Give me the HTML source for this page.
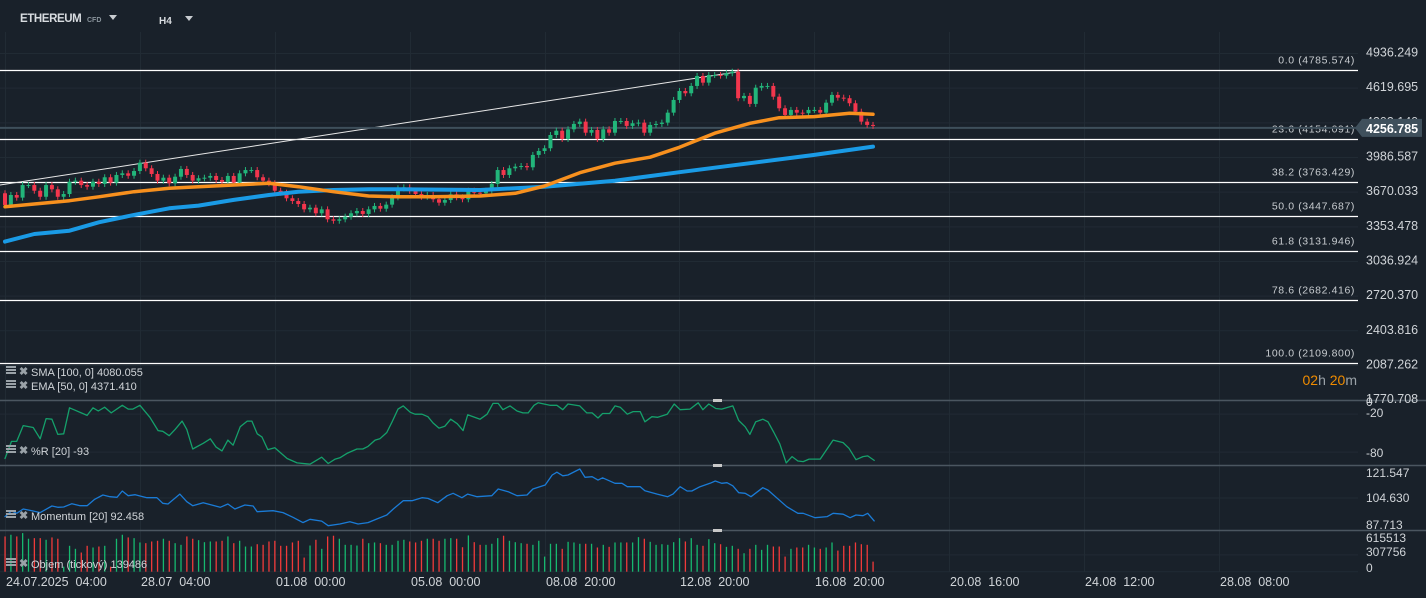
<!DOCTYPE html>
<html><head><meta charset="utf-8"><style>
html,body{margin:0;padding:0;background:#19212a;width:1426px;height:598px;overflow:hidden}
svg{display:block;font-family:"Liberation Sans",sans-serif}
</style></head><body>
<svg id="c" width="1426" height="598" viewBox="0 0 1426 598">
<rect x="0" y="0" width="1426" height="598" fill="#19212a"/>
<g id="hdr">
<text x="20" y="22" fill="#d8dce0" font-size="11.5" font-weight="bold" letter-spacing="-0.4">ETHEREUM</text>
<text x="87" y="22" fill="#8a949c" font-size="7" font-weight="bold">CFD</text>
<path d="M109,15 L117,15 L113,20 Z" fill="#c8ccd0"/>
<text x="159" y="24" fill="#d8dce0" font-size="10" font-weight="bold">H4</text>
<path d="M185,16 L193,16 L189,21 Z" fill="#c8ccd0"/>
</g>
<g id="grid"></g>
<g id="fib"></g>
<g id="main"></g>
<g id="lower"></g>
<g id="axes"></g>
</svg>
<script>
// ---------- DATA ----------
const closes=[3553,3644,3620,3735,3735,3683,3628,3735,3696,3628,
3653,3765,3775,3735,3720,3765,3745,3806,3757,3827,
3842,3820,3863,3939,3888,3836,3775,3802,3751,3811,
3882,3827,3775,3797,3802,3818,3781,3765,3818,3757,
3842,3872,3872,3806,3775,3751,3683,3665,3614,3589,
3562,3513,3528,3477,3513,3422,3409,3422,3446,3477,
3498,3471,3513,3544,3519,3556,3623,3705,3714,3683,
3653,3628,3644,3605,3574,3598,3650,3623,3605,3683,
3665,3660,3683,3745,3872,3827,3888,3903,3909,3897,
4010,4046,4071,4192,4231,4156,4244,4293,4314,4213,
4238,4156,4244,4213,4320,4320,4275,4299,4305,4213,
4284,4293,4305,4396,4512,4594,4573,4640,4731,4670,
4740,4740,4734,4756,4770,4528,4549,4476,4624,4640,
4640,4542,4436,4375,4421,4396,4391,4421,4421,4396,
4487,4558,4533,4528,4482,4405,4314,4284,4275];
const firstOpen=3660;
const volumesK=[644,675,644,705,602,613,613,583,626,602,92,473,418,350,473,442,460,473,92,602,675,626,613,534,521,552,565,602,565,521,491,644,602,576,539,552,552,565,644,521,565,460,460,502,491,552,565,473,473,534,565,258,478,583,418,644,657,602,491,491,478,602,521,534,521,491,491,565,583,552,534,565,602,602,565,602,613,602,447,662,539,
491,491,510,613,657,565,539,521,510,491,565,276,510,510,418,546,534,510,510,510,442,491,454,534,534,534,534,631,602,546,491,502,491,539,613,552,613,491,473,594,521,502,454,473,418,337,418,491,399,491,460,460,276,418,442,442,491,442,418,442,534,386,473,473,534,502,491,184];
const emaIdx=[0,5,11,16,22,28,33,39,45,50,56,62,67,73,81,87,92,98,104,110,115,121,127,132,138,144,148];
const emaVal=[3537,3562,3592,3628,3674,3705,3720,3735,3751,3720,3674,3635,3628,3628,3635,3660,3726,3848,3934,3989,4080,4208,4299,4350,4360,4391,4381];
const smaIdx=[0,5,11,16,22,28,33,39,45,50,56,62,67,81,92,104,115,127,138,148];
const smaVal=[3218,3288,3318,3395,3462,3523,3547,3599,3644,3674,3690,3696,3696,3690,3720,3775,3852,3934,4010,4086];
const wrIdx=[0,1.1,2,3.1,4.8,6,7,8,9,10,11,14,15,15.9,17,18.1,20,21,21.8,23,24.7,26.1,26.9,28,29,30.2,31,32,33.8,35,36,37,38,38.9,40.1,41.3,42.1,43,43.8,44.8,46,48.1,49.8,52,54,55.1,56.3,57.1,58.3,60,61,61.9,63.1,63.9,65.1,66,67,67.9,69.1,69.9,71.1,72.1,73,74,75,76,77.1,78.1,78.9,
81,82.2,83.2,84.1,84.9,86.1,87.3,88.3,89.2,90.2,90.9,92.9,94.1,95.1,96,98,99.2,100.1,101.1,101.9,103.1,104,104.9,106.1,107.1,108.3,109.1,110.3,111.3,112.9,114.1,115.1,116.8,118.2,119,120,121.2,122.2,124.1,125.1,126.2,127,128,129.2,130.1,131.1,132.1,133.2,134.2,135.2,136.1,137.1,139,141.2,142.9,143.9,145.1,146.3,147.1,148.2];
const wrVal=[-90,-63,-63,-38,-41,-59,-27,-28,-52,-51,-10,-22,-10,-15,-9,-18,-6,-12,-12,-6,-25,-46,-47,-54,-44,-31,-44,-75,-66,-59,-72,-78,-61,-69,-40,-31,-31,-51,-56,-76,-73,-90,-97,-99,-88,-98,-91,-89,-82,-75,-75,-71,-61,-59,-49,-32,-12,-7,-17,-20,-20,-24,-34,-42,-39,-28,-35,-46,-21,
-28,-20,-3,-3,-13,-7,-15,-18,-18,-6,-2,-6,-6,-13,-4,-7,-18,-18,-26,-19,-19,-7,-9,-20,-16,-16,-32,-24,-25,-20,-4,-13,-12,-2,-13,-4,-11,-12,-7,-30,-40,-52,-32,-28,-32,-49,-67,-97,-87,-94,-95,-91,-91,-61,-65,-74,-92,-87,-86,-93];
const momIdx=[0,1.1,2,3.1,4.8,6,8,9,10,11.4,12.8,14,15.3,16.7,17.9,19.1,20,21,22.2,24.2,25.9,26.9,27.8,29.8,31,32,33.8,36.7,38,39.2,40.9,42.3,43,45.7,47.4,49.1,50.8,52,54,55.1,57.1,58.8,60.2,61.9,63.4,65.1,66.2,67.9,69.4,71.1,72.1,73.8,75.4,76.4,77.9,78.9,
80.5,83,84.1,85.8,87.3,89,90,92.1,93.3,94.1,95.1,96,98,98.9,100.1,101.1,101.9,104,105.2,106.1,108.3,109.1,111.2,113,113.9,115.1,116.3,117.1,118.5,120.2,121.1,122.2,123.1,124.1,125.1,126.2,127.2,129.2,130.1,133.3,135.2,136.1,138.1,140.2,141.2,142.9,144.1,145.1,146.3,147.1,148.2];
const momVal=[92.5,96.2,94.7,97.5,96.2,95.1,99.4,98.6,98.8,100.9,99.6,99.6,103.8,106.6,105.5,105.1,109.2,106.1,106.8,104.8,104.8,101.2,100.7,107.2,102.2,99.6,101.6,98.6,100.7,97.5,100.1,99.4,95.7,96.4,95.1,92.1,88.6,90.8,89.6,86.6,87.7,89.2,87.7,88.6,91.0,93.6,97.5,102.9,102.9,104.8,104.4,101.6,106.1,107.7,104.8,107.2,
105.5,106.1,110.5,108.7,106.1,106.6,110.5,113.1,119.6,121.4,119.1,119.6,123.5,118.1,118.5,116.3,117.8,114.2,114.2,112.0,112.0,109.4,107.2,105.5,107.2,112.0,109.2,109.2,112.0,114.2,115.7,114.2,114.6,112.6,108.1,107.7,105.5,111.3,109.8,99.0,94.7,94.7,91.8,92.5,94.7,94.1,91.8,93.6,93.1,94.7,89.7];
const fibLevels=["0.0","23.6","38.2","50.0","61.8","78.6","100.0"];
const fibPrices=[4785.574,4154.091,3763.429,3447.687,3131.946,2682.416,2109.800];
const priceTicks=[4936.249,4619.695,4303.140,3986.587,3670.033,3353.478,3036.924,2720.370,2403.816,2087.262,1770.708];
const timeLabels=["24.07.2025  04:00","28.07  04:00","01.08  00:00","05.08  00:00","08.08  20:00","12.08  20:00","16.08  20:00","20.08  16:00","24.08  12:00","28.08  08:00"];
const timeIdx=[0,23,46,69,92,115,138,161,184,207];
const trendStart=[-1,3734]; const trendEnd=[125,4770];
const lastPrice=4256.785;
// ---------- AXES ----------
const X0=5, DX=5.865;
const xOf=i=>X0+i*DX;
const yP=p=>70+(4785.574-p)*0.1095;
const yR=r=>401.5-r*0.633;
const yM=m=>472+(121.547-m)*1.537;
const yV=v=>571.7-v/615.513*33.7;
const NS='http://www.w3.org/2000/svg';
function mk(parent,tag,attrs,text){const e=document.createElementNS(NS,tag);for(const k in attrs)e.setAttribute(k,attrs[k]);if(text!==undefined)e.textContent=text;parent.appendChild(e);return e;}
const G=id=>document.getElementById(id);
// grid
const grid=G('grid');
priceTicks.forEach(p=>{const l=mk(grid,'line',{x1:0,x2:1358,y1:yP(p),y2:yP(p),stroke:'#212b34','stroke-width':1});

});
[-20,-80].forEach(r=>{const l=mk(grid,'line',{x1:0,x2:1358,y1:yR(r),y2:yR(r),stroke:'#212b34'});

});
[104.63].forEach(m=>{const l=mk(grid,'line',{x1:0,x2:1358,y1:yM(m),y2:yM(m),stroke:'#212b34'});

});
[307.756,0].forEach(v=>{const l=mk(grid,'line',{x1:0,x2:1358,y1:yV(v),y2:yV(v),stroke:'#212b34'});

});
timeIdx.forEach(i=>{const x=Math.round(xOf(i))+0.5;const l=mk(grid,'line',{x1:x,x2:x,y1:32,y2:572,stroke:'#212b34'});

});
// fib
const fib=G('fib');
fibPrices.forEach((p,k)=>{const y=Math.round(yP(p))+0.5;
const l=mk(fib,'line',{x1:0,x2:1358,y1:y,y2:y,stroke:'#ffffff','stroke-width':1.3});


const t=mk(fib,'text',{x:1355,y:y-7,fill:'#c8ccd0','font-size':10.5,'text-anchor':'end','letter-spacing':'0.6'},fibLevels[k]+' ('+p.toFixed(3)+')');

});
const tl=mk(fib,'line',{x1:xOf(trendStart[0]),y1:yP(trendStart[1]),x2:xOf(trendEnd[0]),y2:yP(trendEnd[1]),stroke:'#e8e8e8','stroke-width':1});


// last price line
const main=G('main');
const lp=mk(main,'line',{x1:0,x2:1358,y1:yP(lastPrice),y2:yP(lastPrice),stroke:'#3e4f5b','stroke-width':2});


// candles
closes.forEach((c,i)=>{const o=i===0?firstOpen:closes[i-1];const up=c>=o;const col=up?'#22b57a':'#f2364d';
const x=xOf(i);const top=yP(Math.max(o,c)),bot=yP(Math.min(o,c));
const w=mk(main,'line',{x1:x,x2:x,y1:top-3,y2:bot+3,stroke:col,'stroke-width':1});


const b=mk(main,'rect',{x:x-2,y:top,width:4,height:Math.max(1,bot-top),fill:col});

});
function poly(parent,idx,val,yf,col,w,name){const d=idx.map((i,k)=>(k?'L':'M')+xOf(i).toFixed(1)+','+yf(val[k]).toFixed(1)).join('');
const p=mk(parent,'path',{d:d,fill:'none',stroke:col,'stroke-width':w,'stroke-linejoin':'round','stroke-linecap':'round'});

}
poly(main,smaIdx,smaVal,yP,'#1a9be6',4,'sma-100-line');
poly(main,emaIdx,emaVal,yP,'#f7901e',3.5,'ema-50-line');
// lower panels
const lower=G('lower');
poly(lower,wrIdx,wrVal,yR,'#15a06b',1.3,'williams-r-line');
poly(lower,momIdx,momVal,yM,'#1a7bd6',1.3,'momentum-line');
volumesK.forEach((v,i)=>{const o=i===0?firstOpen:closes[i-1];const col=closes[i]>=o?'#16b86f':'#f03a3a';
const r=mk(lower,'rect',{x:xOf(i)-0.6,y:yV(v),width:1.3,height:571.7-yV(v),fill:col});

});
[400.5,465.5,530.5].forEach(y=>{const l=mk(lower,'line',{x1:0,x2:1426,y1:y,y2:y,stroke:'#4b5660','stroke-width':1.5});


const h=mk(lower,'rect',{x:713,y:y-1.5,width:9,height:3,fill:'#c8c8c8'});

});
// legends
function legend(y,txt,name){const g=mk(lower,'g',{});


mk(g,'rect',{x:6,y:y-8,width:10,height:2,fill:'#9aa2a8'});mk(g,'rect',{x:6,y:y-5,width:10,height:2,fill:'#9aa2a8'});mk(g,'rect',{x:6,y:y-2,width:10,height:2,fill:'#9aa2a8'});
mk(g,'text',{x:19,y:y+1,fill:'#9aa2a8','font-size':11,'font-weight':'bold'},'✖');
mk(g,'text',{x:31,y:y+2,fill:'#d0d4d8','font-size':11},txt);}
legend(374,'SMA [100,  0] 4080.055','sma-legend');
legend(388,'EMA [50,  0] 4371.410','ema-legend');
legend(453,'%R [20]  -93','williams-r-legend');
legend(518,'Momentum  [20]  92.458','momentum-legend');
legend(566,'Objem  (tickový)  139486','volume-legend');
// axes
const axes=G('axes');
priceTicks.forEach(p=>{const t=mk(axes,'text',{x:1366,y:yP(p)+3,fill:'#d0d4d8','font-size':12.5},p.toFixed(3));

});
const ly=yP(lastPrice);
const pb=mk(axes,'path',{d:`M1355,${ly} L1362,${ly-9} L1422,${ly-9} L1422,${ly+9} L1362,${ly+9} Z`,fill:'#3f505c'});


const pt=mk(axes,'text',{x:1366,y:ly+5,fill:'#ffffff','font-size':12.5,'font-weight':'bold'},lastPrice.toFixed(3));


const cd=mk(axes,'text',{x:1357,y:385,'font-size':14,'text-anchor':'end'});


cd.innerHTML='<tspan fill="#f08c00">02</tspan><tspan fill="#9aa2a8">h </tspan><tspan fill="#f08c00">20</tspan><tspan fill="#9aa2a8">m</tspan>';
[[0,'0',406],[-20,'-20',417],[-80,'-80',457]].forEach(a=>{const t=mk(axes,'text',{x:1366,y:a[2],fill:'#d0d4d8','font-size':12},a[1]);

});
[[121.547,477],[104.63,502],[87.713,529]].forEach(a=>{const t=mk(axes,'text',{x:1366,y:a[1],fill:'#d0d4d8','font-size':12},a[0].toFixed(3));

});
[['615513',542],['307756',556],['0',572]].forEach(a=>{const t=mk(axes,'text',{x:1366,y:a[1],fill:'#d0d4d8','font-size':12},a[0]);

});
timeLabels.forEach((s,k)=>{const t=mk(axes,'text',{x:Math.round(xOf(timeIdx[k]))+1,y:586,fill:'#d0d4d8','font-size':12.5},s);
t.setAttribute('style','white-space:pre');

});
</script>
</body></html>
